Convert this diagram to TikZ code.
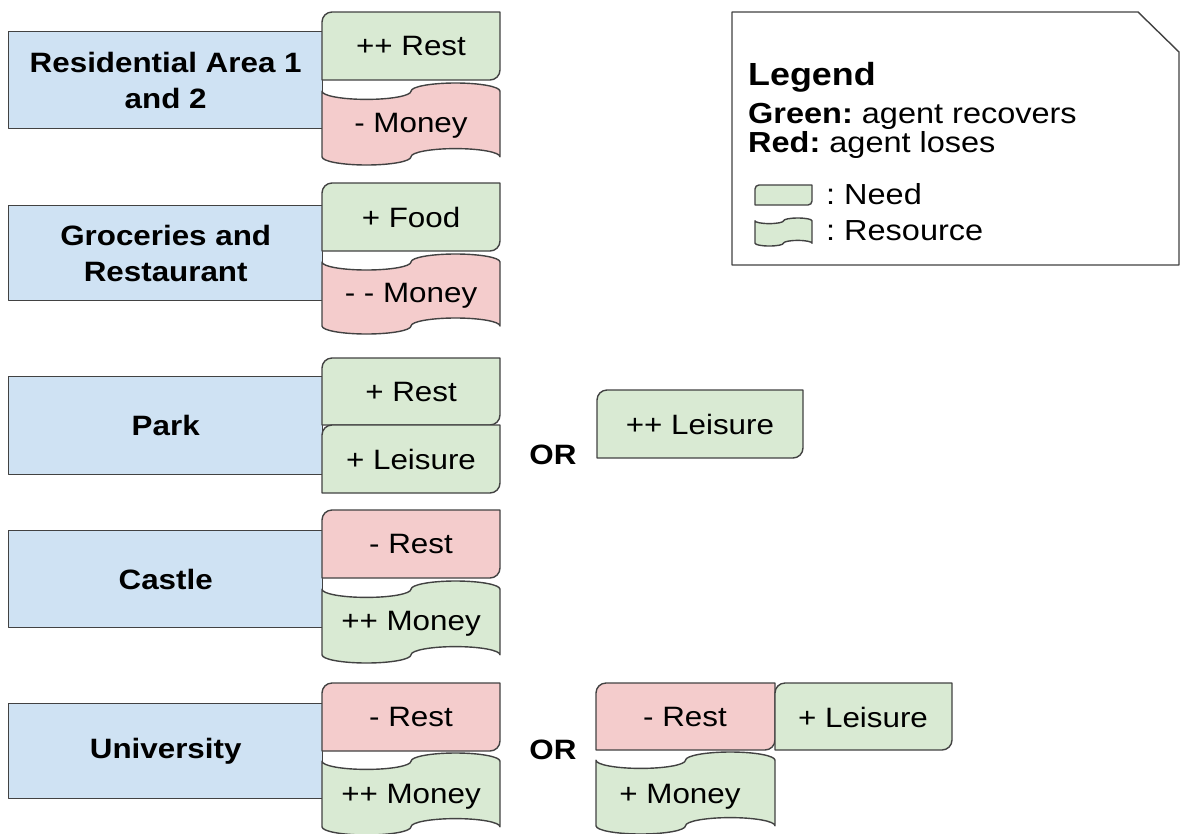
\documentclass[tikz,border=0pt]{standalone}
\usepackage{fontspec}
\setmainfont{Liberation Sans}[FakeStretch=1.12]
\frenchspacing
\definecolor{placeblue}{HTML}{CFE2F3}
\definecolor{gaingreen}{HTML}{D9EAD3}
\definecolor{lossred}{HTML}{F4CCCC}
\definecolor{edgegray}{HTML}{424242}

% Need: rectangle with rounded top-left and bottom-right corners
% #1 fill, #2 x1, #3 y1, #4 x2, #5 y2, #6 corner radius
\newcommand{\needshape}[6]{%
  \draw[outline,fill=#1] ({#2+#6},{#3}) -- ({#4},{#3}) -- ({#4},{#5-#6})
    .. controls ({#4},{#5-0.45*#6}) and ({#4-0.45*#6},{#5}) .. ({#4-#6},{#5})
    -- ({#2},{#5}) -- ({#2},{#3+#6})
    .. controls ({#2},{#3+0.45*#6}) and ({#2+0.45*#6},{#3}) .. cycle;}

% Resource: punched-tape outline with wavy top and bottom edges
% #1 fill, #2 x1, #3 y1, #4 x2, #5 y2
\newcommand{\resshape}[5]{%
  \pgfmathsetmacro\tapeA{(#4-#2)/4}%
  \pgfmathsetmacro\tapeB{(#5-#3)/10}%
  \pgfmathsetmacro\tapeKa{0.552*\tapeA}%
  \pgfmathsetmacro\tapeKb{0.552*\tapeB}%
  \draw[outline,fill=#1] ({#2},{#3+\tapeB})
    .. controls ({#2},{#3+\tapeB+\tapeKb}) and ({#2+\tapeA-\tapeKa},{#3+2*\tapeB}) .. ({#2+\tapeA},{#3+2*\tapeB})
    .. controls ({#2+\tapeA+\tapeKa},{#3+2*\tapeB}) and ({#2+2*\tapeA},{#3+\tapeB+\tapeKb}) .. ({#2+2*\tapeA},{#3+\tapeB})
    .. controls ({#2+2*\tapeA},{#3+\tapeB-\tapeKb}) and ({#2+3*\tapeA-\tapeKa},{#3}) .. ({#2+3*\tapeA},{#3})
    .. controls ({#2+3*\tapeA+\tapeKa},{#3}) and ({#4},{#3+\tapeB-\tapeKb}) .. ({#4},{#3+\tapeB})
    -- ({#4},{#5-\tapeB})
    .. controls ({#4},{#5-\tapeB-\tapeKb}) and ({#2+3*\tapeA+\tapeKa},{#5-2*\tapeB}) .. ({#2+3*\tapeA},{#5-2*\tapeB})
    .. controls ({#2+3*\tapeA-\tapeKa},{#5-2*\tapeB}) and ({#2+2*\tapeA},{#5-\tapeB-\tapeKb}) .. ({#2+2*\tapeA},{#5-\tapeB})
    .. controls ({#2+2*\tapeA},{#5-\tapeB+\tapeKb}) and ({#2+\tapeA+\tapeKa},{#5}) .. ({#2+\tapeA},{#5})
    .. controls ({#2+\tapeA-\tapeKa},{#5}) and ({#2},{#5-\tapeB+\tapeKb}) .. ({#2},{#5-\tapeB})
    -- cycle;}

\begin{document}
\begin{tikzpicture}[x=1pt,y=-1pt,
  outline/.style={draw=edgegray,line width=1.4pt,line join=round},
  place/.style={outline,fill=placeblue,anchor=north west,align=center,
    font=\fontsize{28}{36}\selectfont\bfseries,inner sep=0pt},
  lbl/.style={font=\fontsize{28}{34}\selectfont,inner sep=0pt},
  orlbl/.style={font=\fontsize{28}{34}\selectfont\bfseries,inner sep=0pt},
  legtxt/.style={font=\fontsize{29}{34}\selectfont,inner sep=0pt,anchor=west}]
\useasboundingbox (0,0) rectangle (1180,833);

% ---- places ----
\node[place,minimum width=314pt,minimum height=97pt] (res) at (8,31) {Residential Area 1\\and 2};
\node[place,minimum width=314pt,minimum height=95pt] (groc) at (8,205) {Groceries and\\Restaurant};
\node[place,minimum width=314pt,minimum height=98pt] (park) at (8,376) {Park};
\node[place,minimum width=314pt,minimum height=97pt] (castle) at (8,530) {Castle};
\node[place,minimum width=314pt,minimum height=95pt] (uni) at (8,703) {University};

% ---- residential area ----
\needshape{gaingreen}{322}{12}{500}{80}{10}
\node[lbl] (resRest) at (411,46) {++ Rest};
\resshape{lossred}{322}{83}{500}{165}
\node[lbl] (resMoney) at (411,126) {- Money};

% ---- groceries and restaurant ----
\needshape{gaingreen}{322}{183}{500}{251}{10}
\node[lbl] (grocFood) at (411,217) {+ Food};
\resshape{lossred}{322}{254}{500}{334}
\node[lbl] (grocMoney) at (411,296) {- - Money};

% ---- park ----
\needshape{gaingreen}{322}{358}{500}{425}{10}
\node[lbl] (parkRest) at (411,392) {+ Rest};
\needshape{gaingreen}{322}{425}{500}{493}{10}
\node[lbl] (parkLeisure) at (411,459) {+ Leisure};
\node[orlbl] (parkOr) at (553,455) {OR};
\needshape{gaingreen}{597}{390}{803}{458}{10}
\node[lbl] (parkAlt) at (700,424) {++ Leisure};

% ---- castle ----
\needshape{lossred}{322}{510}{500}{578}{10}
\node[lbl] (castleRest) at (411,544) {- Rest};
\resshape{gaingreen}{322}{581}{500}{663}
\node[lbl] (castleMoney) at (411,624) {++ Money};

% ---- university ----
\needshape{lossred}{322}{683}{500}{751}{10}
\node[lbl] (uniRest) at (411,717) {- Rest};
\resshape{gaingreen}{322}{753}{500}{835}
\node[lbl] (uniMoney) at (411,797) {++ Money};
\node[orlbl] (uniOr) at (553,750) {OR};
\needshape{lossred}{596}{683}{775}{750}{10}
\node[lbl] (uniAltRest) at (685,717) {- Rest};
\needshape{gaingreen}{775}{683}{952}{750}{10}
\node[lbl] (uniAltLeisure) at (863,717) {+ Leisure};
\resshape{gaingreen}{596}{752}{775}{834}
\node[lbl] (uniAltMoney) at (680,797) {+ Money};

% ---- legend ----
\draw[outline,fill=white] (732,12) -- (1138,12) -- (1179,52) -- (1179,265) -- (732,265) -- cycle;
\node[legtxt,font=\fontsize{32}{38}\selectfont\bfseries] (legTitle) at (748,77) {Legend};
\node[legtxt] (legGreen) at (748,116) {\textbf{Green:} agent recovers};
\node[legtxt] (legRed) at (748,145) {\textbf{Red:} agent loses};
\needshape{gaingreen}{755}{185}{812}{205}{4}
\node[legtxt] (legNeed) at (826,194) {: Need};
\resshape{gaingreen}{755}{218}{812}{246}
\node[legtxt] (legRes) at (826,231) {: Resource};
\end{tikzpicture}
\end{document}
